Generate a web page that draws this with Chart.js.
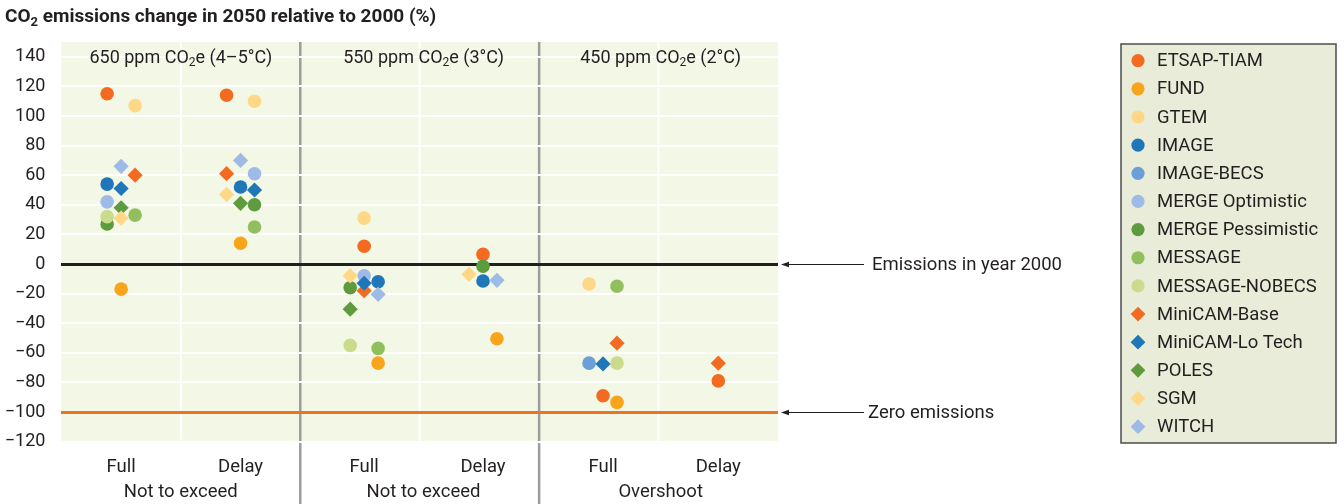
<!DOCTYPE html>
<html>
<head>
<meta charset="utf-8">
<script src="https://cdn.jsdelivr.net/npm/chart.js@4.4.1/dist/chart.umd.min.js"></script>
<style>
  html, body { margin: 0; padding: 0; background: #fff; }
  #wrap { width: 1344px; height: 504px; }
</style>
</head>
<body>
<div id="wrap"><canvas id="co2Chart" width="1344" height="504"></canvas></div>
<script>
// categories along the x axis and the pathway group under each pair
const categories = ['Full', 'Delay', 'Full', 'Delay', 'Full', 'Delay'];
const groupLabels = ['Not to exceed', 'Not to exceed', 'Overshoot'];
const groupTitles = [
    ['650 ppm CO', '2', 'e (4–5°C)'],
    ['550 ppm CO', '2', 'e (3°C)'],
    ['450 ppm CO', '2', 'e (2°C)']
];
const yTickValues = [-120, -100, -80, -60, -40, -20, 0, 20, 40, 60, 80, 100, 120, 140];

// centre of each cluster of runs, and the spread of its three columns
const clusterX = [0, 1, 2.035, 3.03, 4.035, 5];
const JITTER = 0.117;

const models = ['ETSAP-TIAM', 'FUND', 'GTEM', 'IMAGE', 'IMAGE-BECS', 'MERGE Optimistic',
    'MERGE Pessimistic', 'MESSAGE', 'MESSAGE-NOBECS', 'MiniCAM-Base', 'MiniCAM-Lo Tech',
    'POLES', 'SGM', 'WITCH'];
const shapes = ['circle', 'circle', 'circle', 'circle', 'circle', 'circle', 'circle',
    'circle', 'circle', 'rectRot', 'rectRot', 'rectRot', 'rectRot', 'rectRot'];
const colors = ['#f26b21', '#f9a51b', '#fed886', '#1f76b8', '#6a9fd8', '#9dbbe6',
    '#5e9b3e', '#91bf5d', '#cadc8c', '#f26b21', '#1f76b8', '#5e9b3e', '#fed886', '#9dbbe6'];

// % change per category (null = no run)
const etsapTiam      = [115, 114, 12, 6.5, -89, -79];
const fund           = [-17, 14, -67, -50.5, -93.5, null];
const gtem           = [107, 110, 31, null, -13.5, null];
const image          = [54, 52, -12, -11.5, null, null];
const imageBecs      = [null, null, null, null, -67, null];
const mergeOpt       = [42, 61, -8, null, null, null];
const mergePess      = [27, 40, -16, -1.5, null, null];
const message        = [33, 25, -57, null, -15, null];
const messageNobecs  = [32, null, -55, null, -67, null];
const minicamBase    = [60, 61, -18, null, -53.5, -67];
const minicamLoTech  = [51, 50, -13, null, -67.5, null];
const poles          = [38, 41, -30.5, null, null, null];
const sgm            = [31, 47, -8, -7, null, null];
const witch          = [66, 70, -20.5, -11, null, null];

const series = [etsapTiam, fund, gtem, image, imageBecs, mergeOpt, mergePess, message,
    messageNobecs, minicamBase, minicamLoTech, poles, sgm, witch];

// column inside each cluster: -1 left, 0 middle, 1 right
const columns = [
    [-1, -1, 0, 0, 0, 0],
    [0, 0, 1, 1, 1, 0],
    [1, 1, 0, 0, -1, 0],
    [-1, 0, 1, 0, 0, 0],
    [0, 0, 0, 0, -1, 0],
    [-1, 1, 0, 0, 0, 0],
    [-1, 1, -1, 0, 0, 0],
    [1, 1, 1, 0, 1, 0],
    [-1, 0, -1, 0, 1, 0],
    [1, -1, 0, 0, 1, 0],
    [0, 1, 0, 0, 0, 0],
    [0, 0, -1, 0, 0, 0],
    [0, -1, -1, -1, 0, 0],
    [0, 0, 1, 1, 0, 0]
];

const FONT = 'Roboto, "Liberation Sans", sans-serif';
const TEXT = '#231f20';

const datasets = models.map(function(name, i) {
    const pts = [];
    series[i].forEach(function(v, c) {
        if (v !== null) pts.push({x: clusterX[c] + columns[i][c] * JITTER, y: v});
    });
    const r = shapes[i] === 'circle' ? 6.8 : 7.6;
    return {
        label: name,
        data: pts,
        pointStyle: shapes[i],
        pointRadius: r,
        pointHoverRadius: r,
        backgroundColor: colors[i],
        borderWidth: 0,
        order: -i
    };
});

// text with a subscript part: parts = [normal, sub, normal]
function drawRich(ctx, parts, x, y, size, weight, align) {
    const subSize = Math.round(size * 0.68);
    const widths = parts.map(function(p, k) {
        ctx.font = weight + ' ' + (k % 2 ? subSize : size) + 'px ' + FONT;
        return ctx.measureText(p).width;
    });
    const total = widths.reduce(function(a, b) { return a + b; }, 0);
    let cx = align === 'center' ? x - total / 2 : x;
    ctx.textAlign = 'left';
    ctx.textBaseline = 'middle';
    parts.forEach(function(p, k) {
        ctx.font = weight + ' ' + (k % 2 ? subSize : size) + 'px ' + FONT;
        ctx.fillText(p, cx, k % 2 ? y + size * 0.3 : y);
        cx += widths[k];
    });
}

function arrowLine(ctx, x1, x2, y) {
    ctx.strokeStyle = TEXT;
    ctx.fillStyle = TEXT;
    ctx.lineWidth = 1;
    ctx.beginPath();
    ctx.moveTo(x1 + 7, y + 0.5);
    ctx.lineTo(x2, y + 0.5);
    ctx.stroke();
    ctx.beginPath();
    ctx.moveTo(x1, y + 0.5);
    ctx.lineTo(x1 + 8, y - 2.2);
    ctx.lineTo(x1 + 8, y + 3.2);
    ctx.closePath();
    ctx.fill();
}

const decor = {
    id: 'decor',
    beforeDraw: function(chart) {
        const ctx = chart.ctx;
        const a = chart.chartArea;
        const xs = chart.scales.x;
        ctx.save();
        ctx.fillStyle = '#f3f7e5';
        ctx.fillRect(a.left, a.top, a.right - a.left, a.bottom - a.top);
        // white dividers between Full and Delay
        ctx.strokeStyle = '#ffffff';
        ctx.lineWidth = 2;
        [0.5, 2.5, 4.5].forEach(function(v) {
            const px = xs.getPixelForValue(v);
            ctx.beginPath();
            ctx.moveTo(px, a.top);
            ctx.lineTo(px, a.bottom);
            ctx.stroke();
        });
        // grey dividers between stabilisation levels
        ctx.strokeStyle = '#9d9d9d';
        ctx.lineWidth = 2.5;
        [1.5, 3.5].forEach(function(v) {
            const px = xs.getPixelForValue(v);
            ctx.beginPath();
            ctx.moveTo(px, a.top);
            ctx.lineTo(px, chart.height);
            ctx.stroke();
        });
        ctx.restore();
    },
    afterDraw: function(chart) {
        const ctx = chart.ctx;
        const a = chart.chartArea;
        const xs = chart.scales.x;
        const ys = chart.scales.y;
        ctx.save();
        ctx.fillStyle = TEXT;

        drawRich(ctx, ['CO', '2', ' emissions change in 2050 relative to 2000 (%)'], 5, 17, 19, 'bold', 'left');

        groupTitles.forEach(function(parts, g) {
            const cx = xs.getPixelForValue((clusterX[2 * g] + clusterX[2 * g + 1]) / 2);
            ctx.fillStyle = TEXT;
            drawRich(ctx, parts, cx, 58, 18, 'normal', 'center');
        });

        ctx.font = '18.5px ' + FONT;
        ctx.textAlign = 'center';
        ctx.textBaseline = 'middle';
        groupLabels.forEach(function(label, g) {
            const cx = xs.getPixelForValue((clusterX[2 * g] + clusterX[2 * g + 1]) / 2);
            ctx.fillText(label, cx, 492);
        });

        // reference line notes
        const y0 = Math.round(ys.getPixelForValue(0));
        const y100 = Math.round(ys.getPixelForValue(-100));
        arrowLine(ctx, a.right + 3, 864, y0);
        arrowLine(ctx, a.right + 3, 864, y100);
        ctx.fillStyle = TEXT;
        ctx.textAlign = 'left';
        ctx.font = '18.5px ' + FONT;
        ctx.fillText('Emissions in year 2000', 872, y0 + 1);
        ctx.fillText('Zero emissions', 868, y100 + 1);

        // legend box
        ctx.fillStyle = '#e9ecd8';
        ctx.fillRect(1121, 44, 215, 399);
        ctx.strokeStyle = '#4d4d4d';
        ctx.lineWidth = 1.5;
        ctx.strokeRect(1121, 44, 215, 399);
        chart.data.datasets.forEach(function(ds, i) {
            const ly = 60.7 + i * 28.15;
            ctx.fillStyle = ds.backgroundColor;
            ctx.beginPath();
            if (ds.pointStyle === 'circle') {
                ctx.arc(1138, ly, 6.6, 0, Math.PI * 2);
            } else {
                ctx.moveTo(1138, ly - 7.4);
                ctx.lineTo(1145.4, ly);
                ctx.lineTo(1138, ly + 7.4);
                ctx.lineTo(1130.6, ly);
                ctx.closePath();
            }
            ctx.fill();
            ctx.fillStyle = TEXT;
            ctx.font = '18.5px ' + FONT;
            ctx.textAlign = 'left';
            ctx.textBaseline = 'middle';
            ctx.fillText(ds.label, 1157, ly + 1);
        });
        ctx.restore();
    }
};

new Chart(document.getElementById('co2Chart'), {
    type: 'scatter',
    data: { datasets: datasets },
    plugins: [decor],
    options: {
        responsive: false,
        animation: false,
        layout: { padding: { top: 42, right: 566, bottom: 0, left: 0 } },
        plugins: {
            legend: { display: false },
            title: { display: false }
        },
        scales: {
            x: {
                type: 'linear',
                min: -0.5,
                max: 5.5,
                afterBuildTicks: function(axis) {
                    axis.ticks = clusterX.map(function(v) { return {value: v}; });
                },
                afterFit: function(axis) { axis.height = 62.4; },
                ticks: {
                    callback: function(v, idx) { return categories[idx]; },
                    color: TEXT,
                    font: { family: FONT, size: 18.5 },
                    padding: 7,
                    maxRotation: 0,
                    autoSkip: false
                },
                grid: { display: false },
                border: { display: false }
            },
            y: {
                min: -120,
                max: 150,
                afterBuildTicks: function(axis) {
                    axis.ticks = yTickValues.map(function(v) { return {value: v}; });
                },
                afterFit: function(axis) { axis.width = 61.4; },
                ticks: {
                    callback: function(v) { return String(v).replace('-', '\u2212'); },
                    color: TEXT,
                    font: { family: FONT, size: 18 },
                    padding: 16
                },
                grid: {
                    drawTicks: false,
                    color: function(c) {
                        if (c.tick && c.tick.value === 0) return '#231f20';
                        if (c.tick && c.tick.value === -100) return '#f07024';
                        return '#ffffff';
                    },
                    lineWidth: function(c) {
                        if (c.tick && (c.tick.value === 0 || c.tick.value === -100)) return 3;
                        return 2;
                    }
                },
                border: { display: false }
            }
        }
    }
});
</script>
</body>
</html>
